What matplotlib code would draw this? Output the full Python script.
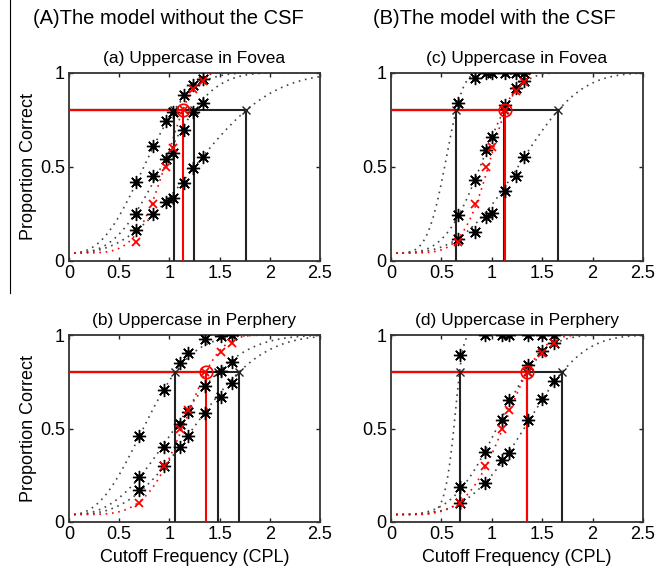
import numpy as np
import matplotlib.pyplot as plt
from matplotlib.lines import Line2D

plt.rcParams['font.family'] = ['Liberation Sans', 'DejaVu Sans']

# guess rate of the psychometric fits
guess = 0.04

# (a) without CSF, fovea
xa = [0.667, 0.84, 0.967, 1.033, 1.147, 1.24, 1.33]
a_black = [[0.415, 0.61, 0.74, 0.79, 0.88, 0.934, 0.965],
           [0.25, 0.45, 0.54, 0.57, 0.695, 0.79, 0.84],
           [0.163, 0.25, 0.31, 0.33, 0.41, 0.49, 0.553]]
a_red = [0.10, 0.30, 0.50, 0.60, 0.80, 0.91, 0.957]
a_thr = [1.047, 1.247, 1.767]
a_slope = [2.6, 2.9, 2.55]
a_red_thr, a_red_slope = 1.133, 5.0

# (b) without CSF, periphery
xb = [0.70, 0.95, 1.107, 1.19, 1.357, 1.517, 1.623]
b_black = [[0.459, 0.705, 0.848, 0.905, 0.977, 0.995, 1.0],
           [0.241, 0.40, 0.523, 0.589, 0.727, 0.807, 0.857],
           [0.17, 0.298, 0.40, 0.459, 0.584, 0.67, 0.741]]
b_red = [0.10, 0.298, 0.50, 0.60, 0.80, 0.907, 0.959]
b_thr = [1.057, 1.483, 1.69]
b_slope = [2.45, 2.55, 2.8]
b_red_thr, b_red_slope = 1.363, 4.6

# (c) with CSF, fovea
xc = [0.66, 0.835, 0.944, 1.0, 1.13, 1.24, 1.32]
c_black = [[0.837, 0.97, 1.0, 1.0, 1.0, 1.0, 1.0],
           [0.243, 0.43, 0.589, 0.656, 0.828, 0.915, 0.957],
           [0.113, 0.154, 0.229, 0.255, 0.372, 0.45, 0.553]]
c_red = [0.10, 0.30, 0.50, 0.606, 0.80, 0.90, 0.952]
c_thr = [0.647, 1.122, 1.66]
c_slope = [4.5, 3.7, 3.2]
c_red_thr, c_red_slope = 1.132, 5.5

# (d) with CSF, periphery
xd = [0.68, 0.934, 1.10, 1.175, 1.36, 1.495, 1.62]
d_black = [[0.893, 1.0, 1.0, 1.0, 1.0, 1.0, 1.0],
           [0.1875, 0.375, 0.545, 0.652, 0.84, 0.916, 0.955],
           [0.10, 0.209, 0.33, 0.37, 0.545, 0.657, 0.755]]
d_red = [0.10, 0.298, 0.50, 0.60, 0.80, 0.905, 0.955]
d_thr = [0.68, 1.347, 1.696]
d_slope = [10.0, 3.5, 3.5]
d_red_thr, d_red_slope = 1.347, 4.5

xticks = [0, 0.5, 1, 1.5, 2, 2.5]
xticklabels = ['0', '0.5', '1', '1.5', '2', '2.5']
yticks = [0, 0.5, 1]
yticklabels = ['0', '0.5', '1']


def weibull(x, thr, slope):
    k = -np.log(1 - (0.8 - guess) / (1 - guess))
    return guess + (1 - guess) * (1 - np.exp(-k * (x / thr) ** slope))


fig = plt.figure(figsize=(6.57, 5.76), dpi=100)
W, H = 657, 576


def make_ax(l, t, r, b):
    return fig.add_axes([l / W, 1 - b / H, (r - l) / W, (b - t) / H])


ax_a = make_ax(69, 72.5, 320, 260.5)
ax_c = make_ax(391, 72.5, 643, 260.5)
ax_b = make_ax(69, 335, 320, 522)
ax_d = make_ax(391, 335, 643, 522)

dots = (0, (1, 2.8))
panels = [
    (ax_a, xa, a_black, a_red, a_thr, a_slope, a_red_thr, a_red_slope, 2.0, '(a) Uppercase in Fovea'),
    (ax_b, xb, b_black, b_red, b_thr, b_slope, b_red_thr, b_red_slope, 2.5, '(b) Uppercase in Perphery'),
    (ax_c, xc, c_black, c_red, c_thr, c_slope, c_red_thr, c_red_slope, 2.0, '(c) Uppercase in Fovea'),
    (ax_d, xd, d_black, d_red, d_thr, d_slope, d_red_thr, d_red_slope, 2.5, '(d) Uppercase in Perphery'),
]

for ax, xs, blacks, red, thrs, slopes, rthr, rslope, rend, title in panels:
    xx = np.linspace(0.05, 2.5, 200)
    for thr, sl in zip(thrs, slopes):
        ax.plot(xx, weibull(xx, thr, sl), color='#444444', ls=dots, lw=1.2, zorder=2)
    xr = np.linspace(0.05, rend, 200)
    ax.plot(xr, weibull(xr, rthr, rslope), color='red', ls=dots, lw=1.2, zorder=2)

    # threshold lines
    for thr in thrs:
        ax.plot([0, thr], [0.8, 0.8], color='#222222', lw=1.5, zorder=3)
        ax.plot([thr, thr], [0, 0.8], color='#222222', lw=1.5, zorder=3)
        ax.plot(thr, 0.8, marker='x', color='#222222', ms=6, mew=1.0, zorder=5)
    ax.plot([0, rthr], [0.8, 0.8], color='red', lw=1.5, zorder=4)
    ax.plot([rthr, rthr], [0, 0.8], color='red', lw=1.5, zorder=4)
    ax.plot(rthr, 0.8, marker='o', mfc='none', mec='red', ms=9, mew=1.2, zorder=6)

    for ys in blacks:
        ax.plot(xs, ys, ls='none', marker=(8, 2, 0), color='black', ms=9.5, mew=1.0, zorder=5)
        ax.plot(xs, ys, ls='none', marker='o', color='black', ms=3.5, zorder=5)
    ax.plot(xs, red, ls='none', marker='x', color='red', ms=6, mew=1.3, zorder=6)

    ax.set_xlim(0, 2.5)
    ax.set_ylim(0, 1)
    ax.set_xticks(xticks)
    ax.set_xticklabels(xticklabels)
    ax.set_yticks(yticks)
    ax.set_yticklabels(yticklabels)
    ax.tick_params(direction='in', top=True, right=True, length=3, width=1,
                   labelsize=13, pad=3, colors='#222222', labelcolor='black')
    for s in ax.spines.values():
        s.set_linewidth(1.3)
        s.set_color('#333333')
    ax.set_title(title, fontsize=12.5, pad=7)

for ax in (ax_a, ax_b):
    ax.set_ylabel('Proportion Correct', fontsize=13, labelpad=2)
for ax in (ax_b, ax_d):
    ax.set_xlabel('Cutoff Frequency (CPL)', fontsize=13, labelpad=4)

fig.text(168 / W, 1 - 18 / H, '(A)The model without the CSF', fontsize=14.5,
         ha='center', va='center')
fig.text(494 / W, 1 - 18 / H, '(B)The model with the CSF', fontsize=14.5,
         ha='center', va='center')

# thin frame line at the left edge of the original figure
fig.add_artist(Line2D([10 / W, 10 / W], [1, 1 - 293 / H], color='black', lw=0.8))

fig.savefig('out.png', dpi=100)
